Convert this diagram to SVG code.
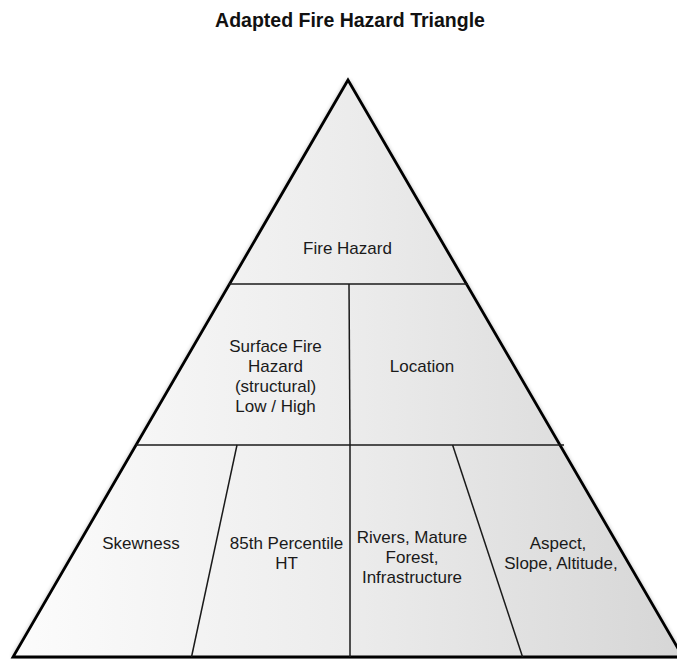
<svg xmlns="http://www.w3.org/2000/svg" width="677" height="659" viewBox="0 0 677 659">
  <style>
    .t { font-family: "Liberation Sans", Arial, sans-serif; font-size: 17px; fill: #1a1a1a; text-anchor: middle; }
    .title { font-family: "Liberation Sans", Arial, sans-serif; font-size: 19.5px; font-weight: bold; fill: #111; text-anchor: middle; }
    .div { stroke: #1a1a1a; stroke-width: 1.5; fill: none; }
    .outline { stroke: #000; stroke-width: 2.8; stroke-linejoin: miter; }
  </style>
  <defs>
    <linearGradient id="fillGrad" gradientUnits="userSpaceOnUse" x1="13" y1="0" x2="683" y2="0">
      <stop offset="0" stop-color="#fcfcfc"/>
      <stop offset="0.5" stop-color="#ececec"/>
      <stop offset="1" stop-color="#d6d6d6"/>
    </linearGradient>
    <filter id="shadow" x="-10%" y="-10%" width="120%" height="120%">
      <feGaussianBlur stdDeviation="2.5"/>
    </filter>
  </defs>
  <rect width="677" height="659" fill="#ffffff"/>
  <text class="title" x="350" y="27">Adapted Fire Hazard Triangle</text>

  <g id="pyramid">
    <polygon points="348,80 13,657 683,657" fill="#000" opacity="0.45" filter="url(#shadow)"/>
    <polygon class="outline" points="348,80 13,657 683,657" fill="url(#fillGrad)"/>
  </g>

  <g id="connectors">
    <line class="div" x1="229" y1="284" x2="468" y2="284"/>
    <line class="div" x1="136" y1="445" x2="564" y2="445"/>
    <line class="div" x1="349" y1="284" x2="350" y2="445"/>
    <line class="div" x1="350" y1="445" x2="350" y2="657"/>
    <line class="div" x1="237" y1="445" x2="191.5" y2="657"/>
    <line class="div" x1="452.6" y1="445" x2="522.6" y2="657"/>
  </g>

  <g id="fire-hazard">
    <text class="t" x="347.5" y="254">Fire Hazard</text>
  </g>
  <g id="surface-fire-hazard">
    <text class="t" x="275.5" y="352">Surface Fire</text>
    <text class="t" x="275.5" y="372">Hazard</text>
    <text class="t" x="275.5" y="392">(structural)</text>
    <text class="t" x="275.5" y="412">Low / High</text>
  </g>
  <g id="location">
    <text class="t" x="422" y="372">Location</text>
  </g>
  <g id="skewness">
    <text class="t" x="141" y="549">Skewness</text>
  </g>
  <g id="percentile">
    <text class="t" x="286.5" y="549">85th Percentile</text>
    <text class="t" x="286.5" y="569">HT</text>
  </g>
  <g id="rivers">
    <text class="t" x="412" y="543">Rivers, Mature</text>
    <text class="t" x="412" y="563">Forest,</text>
    <text class="t" x="412" y="583">Infrastructure</text>
  </g>
  <g id="aspect">
    <text class="t" x="558" y="549">Aspect,</text>
    <text class="t" x="561" y="569">Slope, Altitude,</text>
  </g>
</svg>
